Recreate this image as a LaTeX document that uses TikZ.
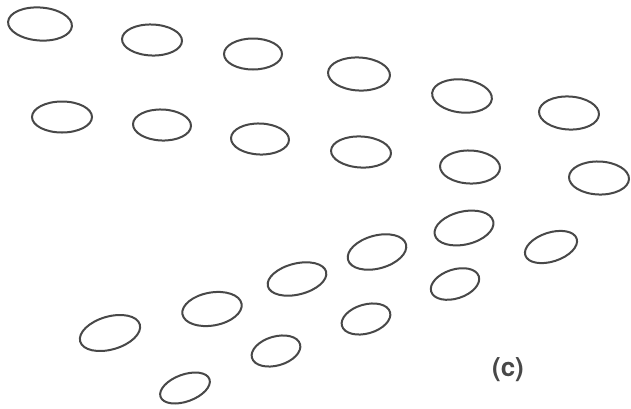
\documentclass[tikz,border=0pt]{standalone}
\usepackage{fontspec}
\setsansfont{TeX Gyre Heros}
\definecolor{inkgray}{RGB}{72,72,72}
\tikzset{ring/.style={draw=inkgray, line width=2pt},
  lbl/.style={font=\sffamily\bfseries\fontsize{26}{26}\selectfont, text=inkgray, inner sep=0pt}}
\begin{document}
\begin{tikzpicture}[x=1pt,y=-1pt]
\fill[white] (0,0) rectangle (631,408);
\useasboundingbox (0,0) rectangle (631,408);
\foreach \cx/\cy/\rx/\ry/\ang in {
  40/24/32/16.5/-4, 152/40/30/15.5/-2, 253/54/29/15.5/0, 359/74/31/16.5/-3, 462/96/30/16.5/-6, 569/113/30/16.5/-3,
  62/117/30/15.5/0, 162/125/29/15.5/-2, 260/139/29/15.5/-2, 361/152/30/15.5/-3, 470/167/30/16.5/-2, 599/178/30/16.5/-2,
  464/228/30/16.5/13, 377/252/30/16.5/15, 551/247/27/14.5/18,
  297/279/30/15.5/14, 455/284/25/14.5/18,
  212/309/30/16.5/10, 366/319/25/14.5/16,
  110/333/31/16.5/16, 276/351/25/14.5/16, 185/388/26/13.5/20}{
  \draw[ring, rotate around={\ang:(\cx,\cy)}] (\cx,\cy) ellipse [x radius=\rx, y radius=\ry];
}
\node[lbl] (c) at (508,370) {(c)};
\end{tikzpicture}
\end{document}
